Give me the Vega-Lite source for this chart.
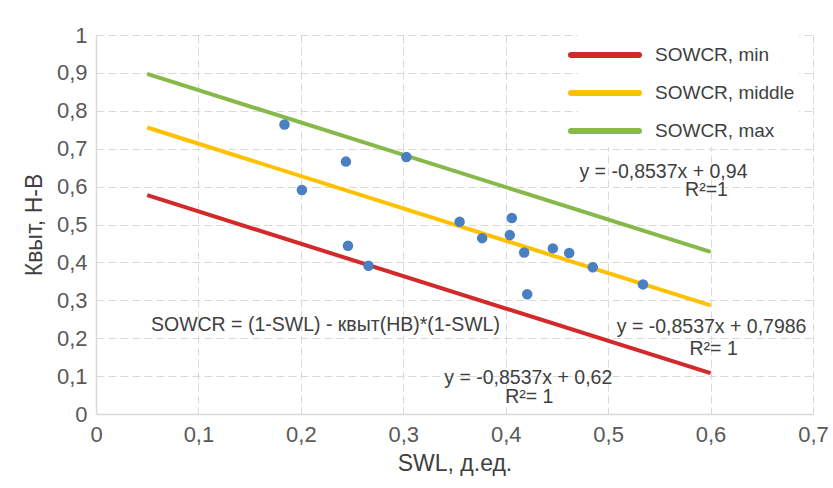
{
  "$schema": "https://vega.github.io/schema/vega-lite/v6.json",
  "width": 717,
  "height": 379,
  "autosize": "none",
  "padding": {"left": 96, "top": 35, "right": 20, "bottom": 74},
  "background": "white",
  "config": {
    "view": {"stroke": null},
    "font": "Liberation Sans",
    "axis": {
      "labelFont": "Liberation Sans",
      "titleFont": "Liberation Sans",
      "labelFontSize": 22,
      "titleFontSize": 23,
      "titleFontWeight": "normal",
      "labelColor": "#595959",
      "titleColor": "#404040",
      "gridColor": "#d9d9d9",
      "gridDash": [8, 4],
      "gridWidth": 1,
      "domainColor": "#d9d9d9",
      "domainWidth": 1.5,
      "ticks": false,
      "labelOverlap": false,
      "labelFlush": false
    }
  },
  "datasets": {
    "lines": [
      {"series": "SOWCR, min", "swl": 0.05, "k": 0.5773},
      {"series": "SOWCR, min", "swl": 0.6, "k": 0.1078},
      {"series": "SOWCR, middle", "swl": 0.05, "k": 0.7559},
      {"series": "SOWCR, middle", "swl": 0.6, "k": 0.2864},
      {"series": "SOWCR, max", "swl": 0.05, "k": 0.8973},
      {"series": "SOWCR, max", "swl": 0.6, "k": 0.4278}
    ],
    "points": [
      {"swl": 0.184, "k": 0.764},
      {"swl": 0.201, "k": 0.591},
      {"swl": 0.244, "k": 0.666},
      {"swl": 0.246, "k": 0.444},
      {"swl": 0.266, "k": 0.391},
      {"swl": 0.303, "k": 0.678},
      {"swl": 0.355, "k": 0.507},
      {"swl": 0.377, "k": 0.464},
      {"swl": 0.406, "k": 0.517},
      {"swl": 0.404, "k": 0.472},
      {"swl": 0.418, "k": 0.426},
      {"swl": 0.421, "k": 0.316},
      {"swl": 0.446, "k": 0.437},
      {"swl": 0.462, "k": 0.425},
      {"swl": 0.485, "k": 0.387},
      {"swl": 0.534, "k": 0.342}
    ],
    "notes": [
      {"label": "y = -0,8537x + 0,94", "swl": 0.554, "k": 0.639},
      {"label": "R²=1", "swl": 0.596, "k": 0.591},
      {"label": "y = -0,8537x + 0,7986", "swl": 0.601, "k": 0.230},
      {"label": "R²= 1", "swl": 0.603, "k": 0.172},
      {"label": "y = -0,8537x + 0,62", "swl": 0.422, "k": 0.095},
      {"label": "R²= 1", "swl": 0.423, "k": 0.045},
      {"label": "SOWCR = (1-SWL) - квыт(НВ)*(1-SWL)", "swl": 0.224, "k": 0.235}
    ]
  },
  "encoding": {
    "x": {
      "field": "swl",
      "type": "quantitative",
      "scale": {"domain": [0, 0.7], "nice": false, "zero": false},
      "axis": {
        "title": "SWL, д.ед.",
        "values": [0, 0.1, 0.2, 0.3, 0.4, 0.5, 0.6, 0.7],
        "labelExpr": "replace(format(datum.value, '.1~f'), '.', ',')",
        "labelPadding": 10,
        "titlePadding": 7
      }
    },
    "y": {
      "field": "k",
      "type": "quantitative",
      "scale": {"domain": [0, 1], "nice": false, "zero": false},
      "axis": {
        "title": "Квыт, Н-В",
        "values": [0, 0.1, 0.2, 0.3, 0.4, 0.5, 0.6, 0.7, 0.8, 0.9, 1],
        "labelExpr": "replace(format(datum.value, '.1~f'), '.', ',')",
        "labelPadding": 9,
        "titlePadding": 10
      }
    }
  },
  "layer": [
    {
      "data": {"name": "lines"},
      "mark": {"type": "line", "strokeWidth": 4},
      "encoding": {
        "color": {
          "field": "series",
          "type": "nominal",
          "sort": ["SOWCR, min", "SOWCR, middle", "SOWCR, max"],
          "scale": {
            "domain": ["SOWCR, min", "SOWCR, middle", "SOWCR, max"],
            "range": ["#d22a2a", "#ffc000", "#86b84a"]
          },
          "legend": {
            "title": null,
            "orient": "none",
            "legendX": 482,
            "legendY": -7,
            "padding": 4,
            "fillColor": "white",
            "symbolType": "M-1.7,0H1.7",
            "symbolSize": 1600,
            "symbolStrokeWidth": 6,
            "labelFontSize": 19,
            "labelFont": "Liberation Sans",
            "labelColor": "#404040",
            "labelOffset": 27,
            "rowPadding": 3,
            "encode": {
              "symbols": {
                "update": {
                  "stroke": {"signal": "datum.value === 'SOWCR, min' ? '#9b1c1f' : datum.value === 'SOWCR, middle' ? '#ffc000' : '#a5c43a'"},
                  "strokeCap": {"value": "round"}
                }
              }
            }
          }
        }
      }
    },
    {
      "data": {"name": "points"},
      "mark": {"type": "circle", "size": 110, "opacity": 1, "color": "#4a7fc1"}
    },
    {
      "data": {"name": "notes"},
      "mark": {"type": "text", "fontSize": 19.5, "font": "Liberation Sans", "color": "#404040", "align": "center", "baseline": "middle"},
      "encoding": {"text": {"field": "label"}}
    }
  ]
}
